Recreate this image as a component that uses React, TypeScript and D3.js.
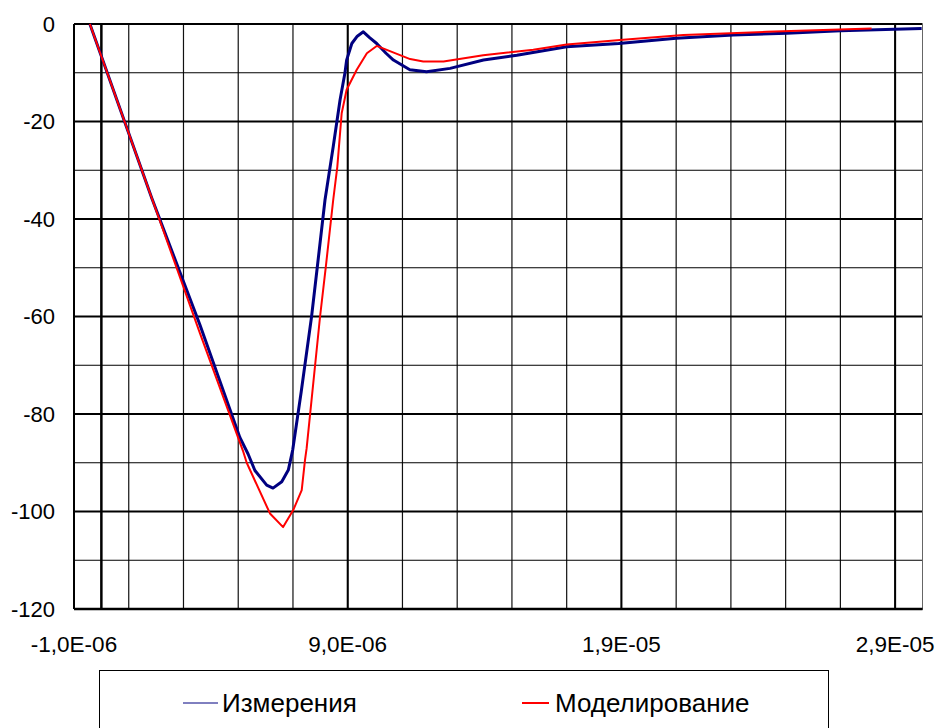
import React from 'react';
import * as d3 from 'd3';

// time in microseconds
const measT = [-0.42, 0, 1.84, 3.6, 5.06, 5.36, 5.61, 6.04, 6.27, 6.59, 6.83, 6.99, 7.3, 7.68, 7.89, 8.17, 8.47, 8.72, 8.9, 8.96, 9.15, 9.35, 9.57, 9.8, 10.06, 10.4, 10.67, 11.27, 11.88, 12.74, 13.96, 15.18, 17.0, 18.9, 21.0, 23.09, 25.04, 27.0, 29.97];
const measV = [0, -6.6, -35.7, -61.7, -84.8, -88.2, -91.6, -94.6, -95.2, -93.9, -91.5, -87.4, -75.5, -60, -49.8, -36.1, -25.2, -15.6, -10, -7.4, -4, -2.5, -1.6, -2.8, -4, -6, -7.4, -9.4, -9.8, -9.1, -7.4, -6.4, -4.65, -4.0, -2.9, -2.26, -1.9, -1.4, -0.9];

const modelT = [-0.42, 1.84, 3.6, 5.17, 5.31, 6.16, 6.64, 7.01, 7.32, 7.44, 7.5, 7.99, 8.2, 8.47, 8.62, 8.78, 8.96, 9.33, 9.7, 10.06, 11.28, 11.76, 12.5, 13.95, 15.78, 17.0, 18.95, 21.26, 24.3, 28.14];
const modelV = [0, -35.7, -63.4, -87.5, -90, -100.4, -103.2, -99.7, -95.6, -89.4, -87, -60, -49.8, -36.1, -29.3, -18.3, -13.5, -9.4, -6, -4.5, -7.2, -7.7, -7.7, -6.4, -5.3, -4.2, -3.3, -2.26, -1.6, -0.9];

const xTicks = [-1e-6, 9e-6, 1.9e-5, 2.9e-5];
const xTickLabels = ['-1,0E-06', '9,0E-06', '1,9E-05', '2,9E-05'];
const yTicks = [0, -20, -40, -60, -80, -100, -120];
const seriesNames = ['Измерения', 'Моделирование'];

const W = 936;
const H = 728;
const left = 74;
const right = 922.5;
const top = 24;
const bottom = 609;
const font = '"Liberation Sans", Arial, sans-serif';

export default function App() {
  const x = d3.scaleLinear().domain([-1e-6, 3e-5]).range([left, right]);
  const y = d3.scaleLinear().domain([-120, 0]).range([bottom, top]);

  const meas = measT.map((t, i) => [t * 1e-6, measV[i]] as [number, number]);
  const model = modelT.map((t, i) => [t * 1e-6, modelV[i]] as [number, number]);
  const line = d3.line<[number, number]>().x(d => x(d[0])).y(d => y(d[1]));

  const minorX = d3.range(-1e-6, 3e-5, 2e-6);
  const minorY = d3.range(-110, 0, 20);

  return (
    <svg width={W} height={H} style={{ position: 'absolute', left: 0, top: 0, background: '#fff' }} fontFamily={font}>
      {/* minor grid */}
      {minorX.map((t, i) => (
        <line key={'vx' + i} x1={x(t)} x2={x(t)} y1={top} y2={bottom} stroke="#111" strokeWidth={1.2} />
      ))}
      {minorY.map(v => (
        <line key={'hy' + v} x1={left} x2={right} y1={y(v)} y2={y(v)} stroke="#000" strokeWidth={1} />
      ))}
      {/* major grid */}
      {xTicks.map(t => (
        <line key={'mx' + t} x1={x(t)} x2={x(t)} y1={top} y2={bottom} stroke="#000" strokeWidth={2} />
      ))}
      {yTicks.map(v => (
        <line key={'my' + v} x1={left} x2={right} y1={y(v)} y2={y(v)} stroke="#000" strokeWidth={2} />
      ))}
      <line x1={right} x2={right} y1={top} y2={bottom} stroke="#666" strokeWidth={1} />
      {/* y axis crossing at t = 0 */}
      <line x1={x(0)} x2={x(0)} y1={top} y2={bottom + 1} stroke="#000" strokeWidth={2.5} />
      <line x1={left} x2={right} y1={bottom} y2={bottom} stroke="#000" strokeWidth={2.5} />

      {yTicks.map(v => (
        <text key={'yl' + v} x={55} y={y(v)} dy="0.36em" textAnchor="end" fontSize={22}>{v}</text>
      ))}
      {xTicks.map((t, i) => (
        <text key={'xl' + t} x={x(t)} y={652} textAnchor="middle" fontSize={22.5}>{xTickLabels[i]}</text>
      ))}

      <path d={line(meas) || ''} fill="none" stroke="#000080" strokeWidth={3} strokeLinejoin="round" />
      <path d={line(model) || ''} fill="none" stroke="#ff0000" strokeWidth={2} strokeLinejoin="round" />

      {/* legend */}
      <rect x={99.5} y={670.5} width={729} height={100} fill="#fff" stroke="#000" strokeWidth={1} />
      <line x1={183} x2={218} y1={703} y2={703} stroke="#000080" strokeWidth={1} />
      <text x={222} y={712} fontSize={26}>{seriesNames[0]}</text>
      <line x1={522} x2={549} y1={703} y2={703} stroke="#ff0000" strokeWidth={2} />
      <text x={555} y={712} fontSize={26}>{seriesNames[1]}</text>
    </svg>
  );
}
